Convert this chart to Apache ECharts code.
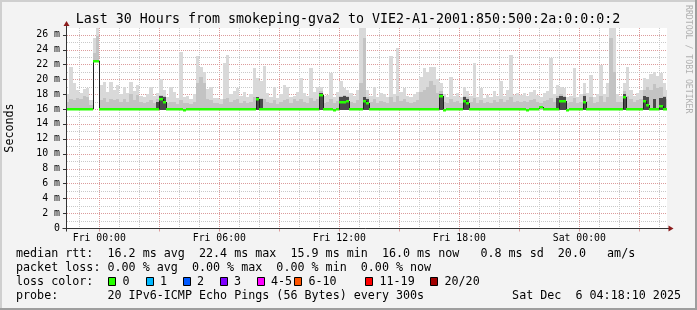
<!DOCTYPE html>
<html>
<head>
<meta charset="utf-8">
<script src="https://cdn.jsdelivr.net/npm/echarts@6.0.0/dist/echarts.min.js"></script>
<style>
html,body{margin:0;padding:0;background:#f3f3f3;overflow:hidden}
#chart{width:697px;height:310px}
</style>
</head>
<body>
<div id="chart"></div>
<script>
// ---------------- data (hours relative to Fri 00:00, values in ms) ----------------
var START_H = -1.6667;      // start of first 10-minute bin
var STEP_H = 1 / 6;         // 10-minute bins
var X_MIN = -1.615, X_MAX = 28.385;
var Y_MAX = 26.9;

var xTickHours = [0, 3, 6, 9, 12, 15, 18, 21, 24, 27];
var xLabelHours = [0, 6, 12, 18, 24];
var xLabels = ['Fri 00:00', 'Fri 06:00', 'Fri 12:00', 'Fri 18:00', 'Sat 00:00'];
var yLabelValues = [0, 2, 4, 6, 8, 10, 12, 14, 16, 18, 20, 22, 24, 26];
var gridHours = [-1, 0, 1, 2, 3, 4, 5, 6, 7, 8, 9, 10, 11, 12, 13, 14, 15, 16, 17, 18, 19, 20, 21, 22, 23, 24, 25, 26, 27, 28];
var gridMeters = [1, 2, 3, 4, 5, 6, 7, 8, 9, 10, 11, 12, 13, 14, 15, 16, 17, 18, 19, 20, 21, 22, 23, 24, 25, 26];

// top of light smoke (max ping)
var smokeHi = [
  18.0,21.7,19.5,18.6,18.2,18.7,18.8,17.2,25.6,27.0,
  19.3,19.7,18.3,19.7,18.5,19.2,18.0,19.0,18.2,19.7,
  18.4,19.2,17.8,17.6,18.0,19.0,17.8,18.2,20.1,18.5,
  17.6,19.0,18.3,17.5,23.7,17.6,17.7,17.4,18.0,23.1,
  21.7,21.0,18.7,19.0,17.5,17.5,17.3,22.2,23.3,18.0,
  18.4,18.8,17.7,18.3,17.6,18.0,21.5,20.2,19.8,21.8,
  18.2,17.6,18.9,17.5,18.0,19.2,19.0,17.6,17.8,18.3,
  20.2,18.2,17.8,21.5,18.3,19.0,19.0,17.7,17.9,20.8,
  17.6,18.3,19.8,18.8,18.5,18.1,17.7,18.6,27.0,27.0,
  18.5,17.8,19.0,17.6,18.2,18.0,17.6,23.1,18.0,24.2,
  18.3,18.8,17.8,17.6,18.0,18.3,20.3,21.5,21.0,21.7,
  21.7,20.0,19.5,18.0,17.6,20.3,17.8,18.2,17.6,19.0,
  18.4,17.8,22.2,17.6,18.8,17.5,17.9,17.6,18.4,17.7,
  19.8,17.8,18.5,23.3,17.9,18.2,17.9,18.1,17.7,18.3,
  18.6,17.9,17.6,18.1,18.4,22.8,18.0,19.2,19.0,18.8,
  17.6,17.8,21.5,17.6,18.0,19.5,18.2,20.6,17.6,18.0,
  21.9,18.0,19.5,27.0,27.0,18.0,17.8,19.5,21.7,18.5,
  17.8,18.2,18.6,20.2,20.0,20.7,21.0,20.5,20.9,19.5,18.5
];
// top of medium smoke
var smokeMid = [
  17.0,17.4,17.2,17.5,17.3,17.8,17.6,16.6,23.6,25.8,
  17.2,17.5,17.0,17.4,17.2,17.3,17.0,17.3,17.0,18.0,
  17.2,17.9,16.9,16.8,16.9,17.2,16.8,17.4,17.9,17.8,
  16.8,17.0,17.0,16.7,17.2,16.8,16.8,16.7,17.0,19.5,
  20.3,19.5,17.4,17.2,16.8,16.8,16.7,17.3,17.5,16.9,
  17.2,17.3,16.8,17.1,16.8,17.0,17.6,17.6,17.5,17.3,
  17.0,16.8,17.2,16.7,16.9,17.2,17.4,16.8,17.3,17.1,
  17.3,17.0,16.8,17.5,17.1,17.4,18.4,16.8,16.9,17.4,
  16.8,17.1,17.8,17.9,17.8,17.0,16.8,17.2,19.5,25.5,
  17.6,16.9,17.4,16.8,17.1,17.0,16.8,17.6,17.0,17.8,
  17.1,17.4,16.9,16.8,17.0,17.2,18.3,18.5,19.0,19.8,
  19.2,18.2,18.4,17.0,16.8,17.4,16.9,17.1,16.8,17.8,
  17.6,16.9,17.5,16.8,17.2,16.8,17.0,16.8,17.2,16.9,
  17.4,16.9,17.2,17.6,17.0,17.1,17.0,17.1,16.9,17.2,
  17.3,17.0,16.8,17.1,17.2,17.5,17.0,17.8,18.0,17.8,
  16.8,16.9,17.5,16.8,17.0,18.0,17.1,17.6,16.8,17.0,
  17.7,17.0,17.6,25.5,21.0,17.0,16.9,18.4,17.8,17.3,
  16.9,17.2,17.4,18.5,19.0,18.6,19.4,18.8,19.0,17.8,17.3
];
// top of the dense dark core (only where pings bunch up)
var smokeDark = [
  null,null,null,null,null,null,null,null,null,null,
  null,null,null,null,null,null,null,null,null,null,
  null,null,null,null,null,null,null,17.0,17.8,17.6,
  null,null,null,null,null,null,null,null,null,null,
  null,null,null,null,null,null,null,null,null,null,
  null,null,null,null,null,null,null,17.6,17.3,null,
  null,null,null,null,null,null,null,null,null,null,
  null,null,null,null,null,null,18.2,null,null,null,
  null,null,17.6,17.7,17.6,null,null,null,null,17.6,
  17.3,null,null,null,null,null,null,null,null,null,
  null,null,null,null,null,null,null,null,null,null,
  null,null,18.0,null,null,null,null,null,null,17.6,
  17.3,null,null,null,null,null,null,null,null,null,
  null,null,null,null,null,null,null,null,null,null,
  null,null,null,null,null,null,null,17.5,17.8,17.6,
  null,null,null,null,null,17.8,null,null,null,null,
  null,null,null,null,null,null,null,18.0,null,null,
  null,null,null,17.8,17.6,null,17.4,null,17.5,17.6,null
];
// bottom of smoke (min ping)
var smokeLo = [
  15.9,15.9,15.9,15.9,15.9,15.9,15.9,15.9,22.3,22.3,
  15.9,15.9,15.9,15.9,15.9,15.9,15.9,15.9,15.9,15.9,
  15.9,15.9,15.9,15.9,15.9,15.9,15.9,15.9,15.9,15.9,
  15.9,15.9,15.9,15.9,15.9,15.9,15.9,15.9,15.9,15.9,
  15.9,15.9,15.9,15.9,15.9,15.9,15.9,15.9,15.9,15.9,
  15.9,15.9,15.9,15.9,15.9,15.9,15.9,15.9,15.9,15.9,
  15.9,15.9,15.9,15.9,15.9,15.9,15.9,15.9,15.9,15.9,
  15.9,15.9,15.9,15.9,15.9,15.9,15.9,15.9,15.9,15.9,
  15.9,15.9,15.9,15.9,15.9,15.9,15.9,15.9,15.9,15.9,
  15.9,15.9,15.9,15.9,15.9,15.9,15.9,15.9,15.9,15.9,
  15.9,15.9,15.9,15.9,15.9,15.9,15.9,15.9,15.9,15.9,
  15.9,15.9,15.9,15.9,15.9,15.9,15.9,15.9,15.9,15.9,
  15.9,15.9,15.9,15.9,15.9,15.9,15.9,15.9,15.9,15.9,
  15.9,15.9,15.9,15.9,15.9,15.9,15.9,15.9,15.9,15.9,
  15.9,15.9,15.9,15.9,15.9,15.9,15.9,15.9,15.9,15.9,
  15.9,15.9,15.9,15.9,15.9,15.9,15.9,15.9,15.9,15.9,
  15.9,15.9,15.9,15.9,15.9,15.9,15.9,15.9,15.9,15.9,
  15.9,15.9,15.9,15.9,15.9,15.9,15.9,15.9,15.9,15.9,15.9
];
// median rtt
var median = [
  16.0,16.0,16.0,16.0,16.0,16.0,16.0,16.0,22.4,22.4,
  16.0,16.0,16.0,16.0,16.0,16.0,16.0,16.0,16.0,16.0,
  16.0,16.0,16.0,16.0,16.0,16.0,16.0,16.0,17.3,16.9,
  16.0,16.0,16.0,16.0,16.0,15.9,16.0,16.0,16.0,16.0,
  16.0,16.0,16.0,16.0,16.0,16.0,16.0,16.0,16.0,16.0,
  16.0,16.0,16.0,16.0,16.0,16.0,16.0,17.3,16.0,16.0,
  16.0,16.0,16.0,16.0,16.0,16.0,16.0,16.0,16.0,16.0,
  16.0,16.0,16.0,16.0,16.0,16.0,17.9,16.0,16.0,16.0,
  15.9,16.0,16.9,17.0,17.1,16.0,16.0,16.0,16.0,17.1,
  16.8,16.0,16.0,16.0,16.0,16.0,16.0,16.0,16.0,16.0,
  16.0,16.0,16.0,16.0,16.0,16.0,16.0,16.0,16.0,16.0,
  16.0,16.0,17.8,15.9,16.0,16.0,16.0,16.0,16.0,17.1,
  16.8,16.0,16.0,16.0,16.0,16.0,16.0,16.0,16.0,16.0,
  16.0,16.0,16.0,16.0,16.0,16.0,16.0,16.0,15.9,16.0,
  16.0,16.0,16.3,16.0,16.0,16.0,16.0,16.0,17.1,17.1,
  15.9,16.0,16.0,16.0,16.0,16.9,16.0,16.0,16.0,16.0,
  16.0,16.0,16.0,16.0,16.0,16.0,16.0,17.6,16.0,16.0,
  16.0,16.0,16.0,17.1,16.5,16.0,16.0,16.0,16.4,16.0,16.0
];

var lossLabels = ['0', '1', '2', '3', '4-5', '6-10', '11-19', '20/20'];
var lossColors = ['#26ff00', '#00b8ff', '#0059ff', '#7e00ff', '#ff00ff', '#ff5500', '#ff0000', '#a10000'];

var legendLines = [
  'median rtt:  16.2 ms avg  22.4 ms max  15.9 ms min  16.0 ms now   0.8 ms sd  20.0   am/s',
  'packet loss: 0.00 % avg  0.00 % max  0.00 % min  0.00 % now',
  'loss color:',
  'probe:       20 IPv6-ICMP Echo Pings (56 Bytes) every 300s'
];
var titleText = 'Last 30 Hours from smokeping-gva2 to VIE2-A1-2001:850:500:2a:0:0:0:2';
var stampText = 'Sat Dec  6 04:18:10 2025';

// ---------------- styles ----------------
var MONO = '"DejaVu Sans Mono", "Liberation Mono", monospace';
var C_LIGHT = '#d9d9d9', C_MID = '#c3c3c3', C_DARK = '#4a4a4a';
var C_GREEN = '#26ff00', C_MEDLINE = '#202020';
var C_MINOR = '#c9c9c9', C_MAJOR = '#dc9c9c';
var C_AXIS = '#333333', C_ARROW = '#8b1c1c';

// ---------------- build rows ----------------
var smokeRows = smokeHi.map(function (h, i) {
  return [START_H + i * STEP_H, smokeLo[i], smokeMid[i], h, smokeDark[i] == null ? 0 : smokeDark[i]];
});
var medianRows = median.map(function (m, i) {
  return [START_H + i * STEP_H, m, i > 0 ? median[i - 1] : m];
});

function clip(r, cs) { return echarts.graphic.clipRectByRect(r, cs); }

function renderSmoke(params, api) {
  var cs = params.coordSys;
  var t = api.value(0), lo = api.value(1), mid = api.value(2), hi = api.value(3), dk = api.value(4);
  var xa = Math.round(api.coord([t, 0])[0]);
  var xb = Math.round(api.coord([t + STEP_H, 0])[0]);
  var kids = [];
  function band(v0, v1, fill) {
    var y0 = Math.round(api.coord([t, v0])[1]);
    var y1 = Math.round(api.coord([t, Math.min(v1, Y_MAX)])[1]);
    var r = clip({x: xa, y: y1, width: xb - xa, height: y0 - y1}, cs);
    if (r && r.width > 0 && r.height > 0) kids.push({type: 'rect', shape: r, style: {fill: fill}});
  }
  band(lo, hi, C_LIGHT);
  band(lo, mid, C_MID);
  if (dk > 0) band(lo, dk, C_DARK);
  return {type: 'group', children: kids};
}

function renderMedian(params, api) {
  var cs = params.coordSys;
  var t = api.value(0), m = api.value(1), pm = api.value(2);
  var xa = Math.round(api.coord([t, 0])[0]);
  var xb = Math.round(api.coord([t + STEP_H, 0])[0]);
  var ym = api.coord([t, m])[1];
  var kids = [];
  if (pm !== m && xa >= cs.x) {
    var yp = api.coord([t, pm])[1];
    kids.push({type: 'line', shape: {x1: xa + 0.5, y1: Math.round(yp), x2: xa + 0.5, y2: Math.round(ym)},
      style: {stroke: C_MEDLINE, lineWidth: 1}});
  }
  var r = clip({x: xa, y: Math.round(ym) - 1, width: xb - xa, height: 2.5}, cs);
  if (r) kids.push({type: 'rect', shape: r, style: {fill: C_GREEN}});
  return {type: 'group', children: kids};
}

function renderVGrid(params, api) {
  var cs = params.coordSys;
  var h = api.value(0);
  var x = Math.round(api.coord([h, 0])[0]) + 0.5;
  if (x < cs.x || x > cs.x + cs.width) return null;
  return {type: 'line', shape: {x1: x, y1: cs.y, x2: x, y2: cs.y + cs.height},
    style: {stroke: (h % 3 === 0) ? C_MAJOR : C_MINOR, lineWidth: 1, lineDash: [1, 1]}};
}

function renderHGrid(params, api) {
  var cs = params.coordSys;
  var v = api.value(1);
  var y = Math.round(api.coord([X_MIN, v])[1]) + 0.5;
  return {type: 'line', shape: {x1: cs.x, y1: y, x2: cs.x + cs.width, y2: y},
    style: {stroke: (v % 2 === 0) ? C_MAJOR : C_MINOR, lineWidth: 1, lineDash: [1, 1]}};
}

function renderAxes(params, api) {
  var p0 = api.coord([X_MIN, 0]);
  var x0 = Math.round(p0[0]) - 0.5;
  var y0 = Math.round(p0[1]) + 0.5;
  var xr = Math.round(api.coord([X_MAX, 0])[0]);
  var yt = Math.round(api.coord([X_MIN, Y_MAX])[1]);
  var kids = [];
  xTickHours.forEach(function (h) {
    var xx = Math.round(api.coord([h, 0])[0]) + 0.5;
    kids.push({type: 'line', shape: {x1: xx, y1: y0, x2: xx, y2: y0 + 3}, style: {stroke: C_MAJOR, lineWidth: 1}});
  });
  yLabelValues.forEach(function (v) {
    var yy = Math.round(api.coord([X_MIN, v])[1]) + 0.5;
    kids.push({type: 'line', shape: {x1: x0 - 3.5, y1: yy, x2: x0, y2: yy}, style: {stroke: C_AXIS, lineWidth: 1}});
  });
  kids.push({type: 'line', shape: {x1: x0 - 4, y1: y0, x2: xr + 2, y2: y0}, style: {stroke: C_AXIS, lineWidth: 1}});
  kids.push({type: 'polygon', shape: {points: [[xr + 1.5, y0 - 3], [xr + 1.5, y0 + 3], [xr + 6.5, y0]]}, style: {fill: C_ARROW}});
  kids.push({type: 'line', shape: {x1: x0, y1: y0 + 3, x2: x0, y2: yt - 2}, style: {stroke: C_AXIS, lineWidth: 1}});
  kids.push({type: 'polygon', shape: {points: [[x0 - 3, yt - 2], [x0 + 3, yt - 2], [x0, yt - 7]]}, style: {fill: C_ARROW}});
  return {type: 'group', children: kids};
}

// ---------------- static texts / frame ----------------
var graphics = [
  {type: 'rect', shape: {x: 0, y: 0, width: 697, height: 2}, style: {fill: '#cfcfcf'}, silent: true},
  {type: 'rect', shape: {x: 0, y: 0, width: 2, height: 310}, style: {fill: '#cfcfcf'}, silent: true},
  {type: 'rect', shape: {x: 0, y: 308, width: 697, height: 2}, style: {fill: '#9e9e9e'}, silent: true},
  {type: 'rect', shape: {x: 695, y: 0, width: 2, height: 310}, style: {fill: '#9e9e9e'}, silent: true},
  {type: 'text', x: 348, y: 19.5, style: {text: titleText, font: '13.3px ' + MONO, fill: '#000', align: 'center', verticalAlign: 'middle'}},
  {type: 'text', x: 10, y: 128, rotation: Math.PI / 2, style: {text: 'Seconds', font: '11.7px ' + MONO, fill: '#000', align: 'center', verticalAlign: 'middle'}},
  {type: 'text', x: 688, y: 5, rotation: -Math.PI / 2, style: {text: 'RRDTOOL / TOBI OETIKER', font: '8.2px ' + MONO, fill: '#b0b0b0', align: 'left', verticalAlign: 'middle'}},
  {type: 'text', x: 681, y: 296, style: {text: stampText, font: '11.7px ' + MONO, fill: '#000', align: 'right', verticalAlign: 'middle'}}
];
var rowY = [254.3, 268.3, 282.3, 296];
legendLines.forEach(function (s, i) {
  graphics.push({type: 'text', x: 16, y: rowY[i], style: {text: s, font: '11.7px ' + MONO, fill: '#000', align: 'left', verticalAlign: 'middle'}});
});
var boxX = [108, 145.5, 182.5, 219.5, 256.5, 294, 365, 430];
lossLabels.forEach(function (lab, i) {
  graphics.push({type: 'rect', shape: {x: Math.round(boxX[i]) + 0.5, y: 277.5, width: 7, height: 8},
    style: {fill: lossColors[i], stroke: '#000', lineWidth: 1}});
  graphics.push({type: 'text', x: boxX[i] + 14.5, y: rowY[2], style: {text: lab, font: '11.7px ' + MONO, fill: '#000', align: 'left', verticalAlign: 'middle'}});
});

// ---------------- chart ----------------
var chart = echarts.init(document.getElementById('chart'), null, {renderer: 'canvas', width: 697, height: 310});
chart.setOption({
  animation: false,
  backgroundColor: '#f3f3f3',
  grid: {left: 67, top: 28, width: 600, height: 200, show: true, backgroundColor: '#ffffff', borderWidth: 0},
  xAxis: {
    type: 'value', min: X_MIN, max: X_MAX,
    axisLine: {show: false}, axisTick: {show: false}, splitLine: {show: false},
    axisLabel: {
      customValues: xLabelHours, margin: 5, color: '#000', fontFamily: MONO, fontSize: 9.8,
      formatter: function (v) { var k = xLabelHours.indexOf(Math.round(v)); return k >= 0 ? xLabels[k] : ''; }
    }
  },
  yAxis: {
    type: 'value', min: 0, max: Y_MAX,
    axisLine: {show: false}, axisTick: {show: false}, splitLine: {show: false},
    axisLabel: {
      customValues: yLabelValues, margin: 7, color: '#000', fontFamily: MONO, fontSize: 9.9,
      formatter: function (v) { return v === 0 ? '0' : v + ' m'; }
    }
  },
  graphic: graphics,
  series: [
    {type: 'custom', name: 'vgrid', silent: true, z: 1, data: gridHours.map(function (h) { return [h, 0]; }), renderItem: renderVGrid},
    {type: 'custom', name: 'hgrid', silent: true, z: 1, data: gridMeters.map(function (m) { return [X_MIN, m]; }), renderItem: renderHGrid},
    {type: 'custom', name: 'smoke', silent: true, z: 2, data: smokeRows, renderItem: renderSmoke},
    {type: 'custom', name: 'median', silent: true, z: 3, data: medianRows, renderItem: renderMedian},
    {type: 'custom', name: 'axes', silent: true, z: 4, data: [[0, 0]], renderItem: renderAxes}
  ]
});
</script>
</body>
</html>
